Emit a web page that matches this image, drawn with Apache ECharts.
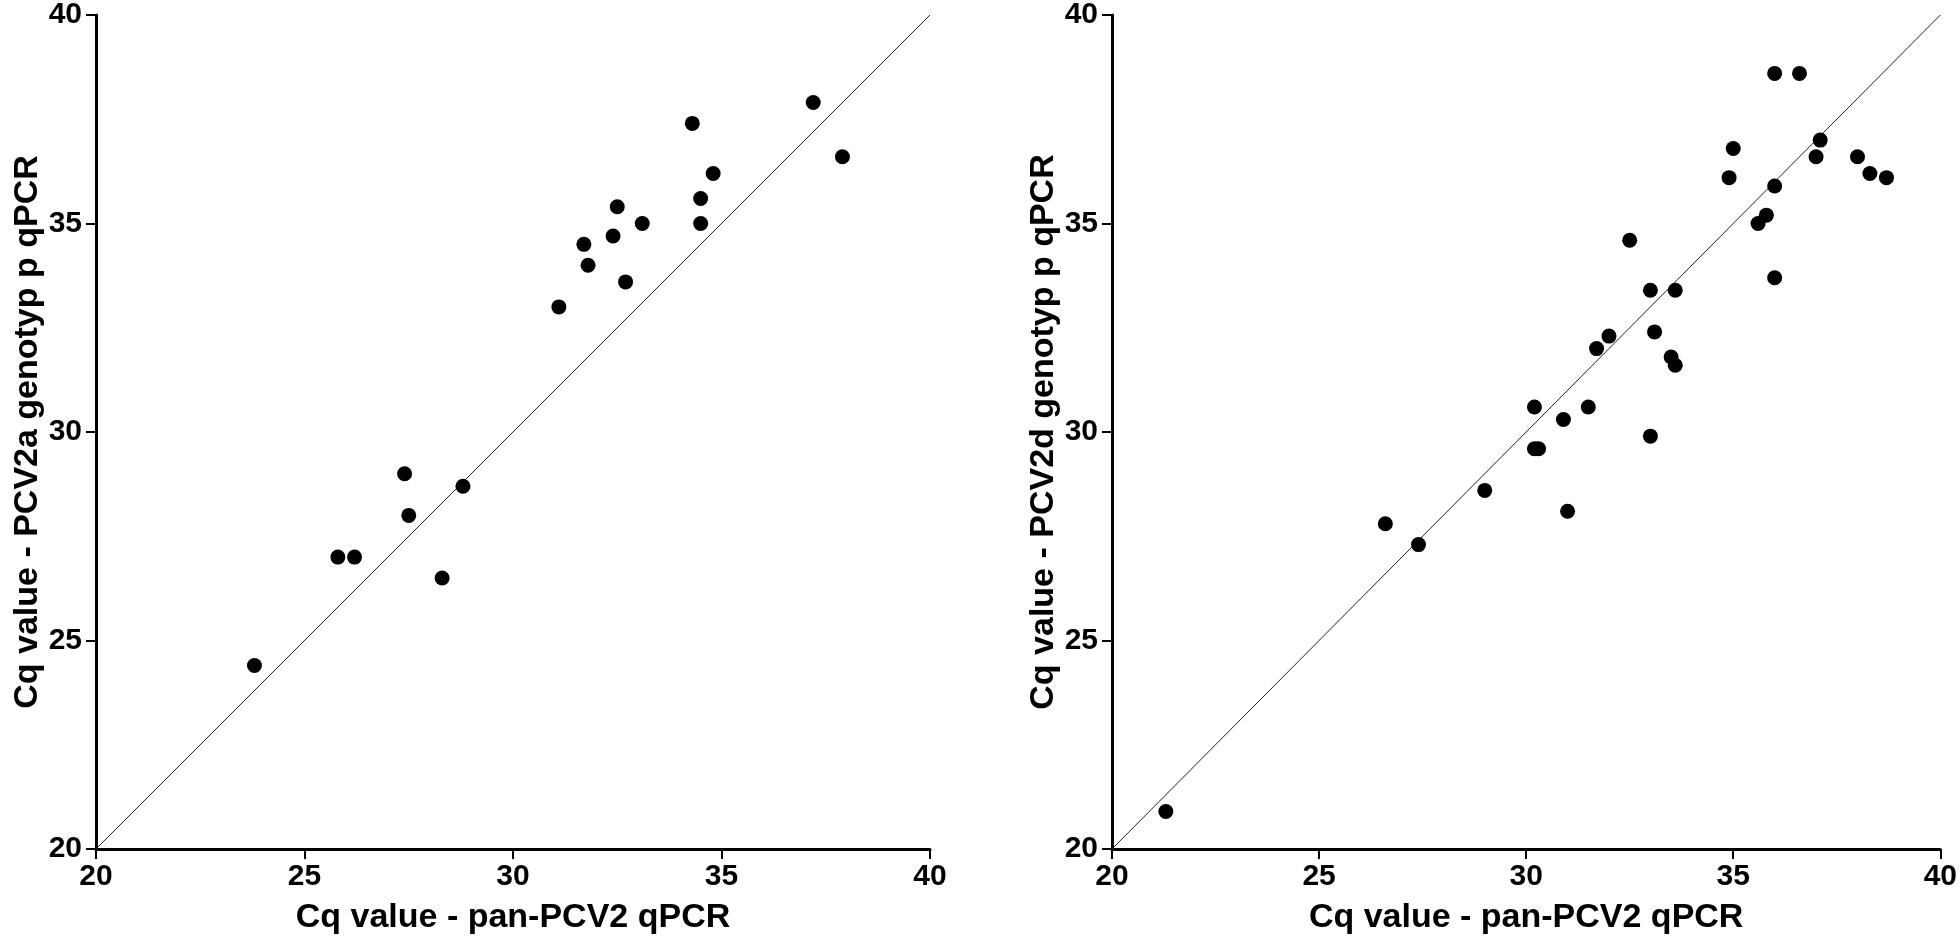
<!DOCTYPE html>
<html>
<head>
<meta charset="utf-8">
<script src="https://cdn.jsdelivr.net/npm/echarts@6/dist/echarts.min.js"></script>
<style>
  html, body { margin: 0; padding: 0; background: #fff; }
  #chart { width: 1960px; height: 942px; }
</style>
</head>
<body>
<div id="chart"></div>
<script>
// ---- data ----
const leftX  = [37.2, 34.3, 37.9, 34.8, 34.5, 34.5, 32.5, 33.1, 32.4, 31.7, 31.8, 32.7, 31.1, 27.4, 28.8, 27.5, 25.8, 26.2, 28.3, 23.8];
const leftY  = [37.9, 37.4, 36.6, 36.2, 35.6, 35.0, 35.4, 35.0, 34.7, 34.5, 34.0, 33.6, 33.0, 29.0, 28.7, 28.0, 27.0, 27.0, 26.5, 24.4];

const rightX = [36.0, 36.6, 37.1, 37.0, 38.0, 38.3, 38.7, 35.0, 34.9, 36.0, 35.8, 35.6, 32.5, 36.0, 33.0, 33.6, 33.1, 32.0, 31.7, 33.5, 33.6, 30.2, 31.5, 30.9, 33.0, 30.2, 30.3, 29.0, 31.0, 26.6, 27.4, 21.3];
const rightY = [38.6, 38.6, 37.0, 36.6, 36.6, 36.2, 36.1, 36.8, 36.1, 35.9, 35.2, 35.0, 34.6, 33.7, 33.4, 33.4, 32.4, 32.3, 32.0, 31.8, 31.6, 30.6, 30.6, 30.3, 29.9, 29.6, 29.6, 28.6, 28.1, 27.8, 27.3, 20.9];

const tickLabels = [20, 25, 30, 35, 40];
const identityLine = [20, 40];

const xTitle = 'Cq value - pan-PCV2 qPCR';
const yTitleLeft = 'Cq value - PCV2a genotyp p qPCR';
const yTitleRight = 'Cq value - PCV2d genotyp p qPCR';

// ---- build ----
const FONT = '"Liberation Sans", Arial, sans-serif';
const axMin = tickLabels[0], axMax = tickLabels[tickLabels.length - 1];
const axInt = tickLabels[1] - tickLabels[0];

function pairs(xs, ys) { return xs.map((x, i) => [x, ys[i]]); }

function xAxis(idx) {
  return {
    type: 'value', gridIndex: idx, min: axMin, max: axMax, interval: axInt,
    name: xTitle, nameLocation: 'middle', nameGap: 52,
    nameTextStyle: { fontFamily: FONT, fontWeight: 'bold', fontSize: 34, color: '#000' },
    axisLine: { show: true, lineStyle: { color: '#000', width: 3 } },
    axisTick: { show: true, inside: false, length: 10, lineStyle: { color: '#000', width: 2 } },
    axisLabel: { margin: 13, fontFamily: FONT, fontWeight: 'bold', fontSize: 30, color: '#000' },
    splitLine: { show: false }
  };
}
function yAxis(idx, title) {
  return {
    type: 'value', gridIndex: idx, min: axMin, max: axMax, interval: axInt,
    name: title, nameLocation: 'middle', nameGap: 47,
    nameTextStyle: { fontFamily: FONT, fontWeight: 'bold', fontSize: 34, color: '#000' },
    axisLine: { show: true, lineStyle: { color: '#000', width: 3 } },
    axisTick: { show: true, inside: false, length: 10, lineStyle: { color: '#000', width: 2 } },
    axisLabel: { margin: 14, fontFamily: FONT, fontWeight: 'bold', fontSize: 30, color: '#000' },
    splitLine: { show: false }
  };
}
function scatter(idx, data) {
  return {
    type: 'scatter', xAxisIndex: idx, yAxisIndex: idx, data: data,
    symbol: 'circle', symbolSize: 15, itemStyle: { color: '#000', opacity: 1 }, z: 3
  };
}
function diag(idx) {
  return {
    type: 'line', xAxisIndex: idx, yAxisIndex: idx,
    data: identityLine.map(v => [v, v]), symbol: 'none', silent: true,
    lineStyle: { color: '#222', width: 1 }, z: 2
  };
}

const chart = echarts.init(document.getElementById('chart'), null, { renderer: 'canvas' });
chart.setOption({
  backgroundColor: '#fff',
  animation: false,
  grid: [
    { left: 96, top: 15, width: 834, height: 834 },
    { left: 1112, top: 15, width: 833, height: 834 }
  ],
  xAxis: [xAxis(0), xAxis(1)],
  yAxis: [yAxis(0, yTitleLeft), yAxis(1, yTitleRight)],
  series: [
    diag(0), scatter(0, pairs(leftX, leftY)),
    diag(1), scatter(1, pairs(rightX, rightY))
  ]
});
</script>
</body>
</html>
